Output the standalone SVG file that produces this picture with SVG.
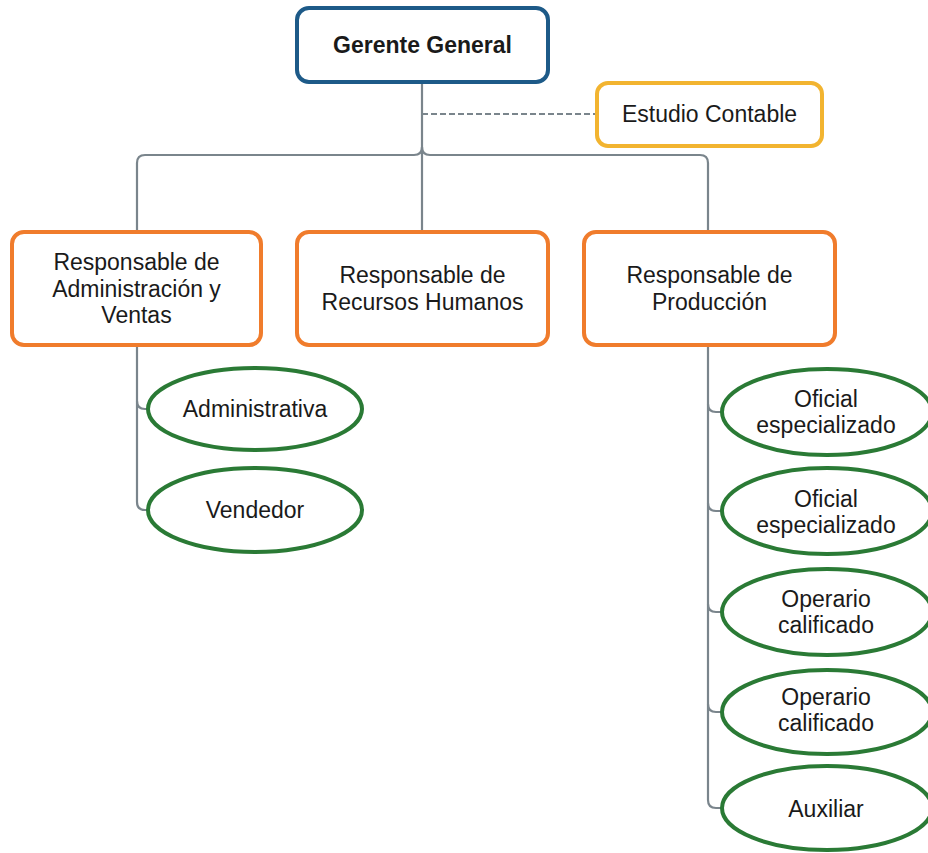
<svg xmlns="http://www.w3.org/2000/svg" width="928" height="853" viewBox="0 0 928 853">
  <style>
    text { font-family: "Liberation Sans", Arial, sans-serif; font-size: 23px; fill: #1a1a1a; text-anchor: middle; }
    .bold { font-weight: bold; }
    .box { fill: #ffffff; stroke-width: 4; }
    .top { stroke: #1d5a88; }
    .adv { stroke: #f2b430; }
    .mgr { stroke: #f07c2c; }
    .staff { fill: #ffffff; stroke: #2a7a35; stroke-width: 4; }
    .link { fill: none; stroke: #7a858c; stroke-width: 2.2; }
    .dash { fill: none; stroke: #7a858c; stroke-width: 2; stroke-dasharray: 6 3; }
  </style>
  <rect width="928" height="853" fill="#ffffff"/>

  <!-- connectors -->
  <g id="connectors">
    <path class="dash" d="M422,114 H596"/>
    <path class="link" d="M422,82 V232"/>
    <path class="link" d="M422,147 Q422,155 414,155 H145 Q137,155 137,163 V232"/>
    <path class="link" d="M422,147 Q422,155 430,155 H700 Q708,155 708,163 V232"/>
    <!-- administration branch -->
    <path class="link" d="M137,345 V502 Q137,510 145,510 H149"/>
    <path class="link" d="M137,401 Q137,409 145,409 H149"/>
    <!-- production branch -->
    <path class="link" d="M708,345 V800 Q708,808 716,808 H722"/>
    <path class="link" d="M708,404 Q708,412 716,412 H722"/>
    <path class="link" d="M708,503 Q708,511 716,511 H722"/>
    <path class="link" d="M708,604 Q708,612 716,612 H722"/>
    <path class="link" d="M708,704 Q708,712 716,712 H722"/>
  </g>

  <g id="gerente">
    <rect class="box top" x="297" y="8" width="251" height="74" rx="12"/>
    <text class="bold" x="422.5" y="53">Gerente General</text>
  </g>

  <g id="estudio">
    <rect class="box adv" x="597" y="83" width="225" height="63" rx="11"/>
    <text x="709.5" y="122">Estudio Contable</text>
  </g>

  <g id="resp-admin">
    <rect class="box mgr" x="12" y="232" width="249" height="113" rx="12"/>
    <text x="136.5" y="270">Responsable de</text>
    <text x="136.5" y="296.5">Administración y</text>
    <text x="136.5" y="323">Ventas</text>
  </g>

  <g id="resp-rrhh">
    <rect class="box mgr" x="297" y="232" width="251" height="113" rx="12"/>
    <text x="422.5" y="283">Responsable de</text>
    <text x="422.5" y="310">Recursos Humanos</text>
  </g>

  <g id="resp-prod">
    <rect class="box mgr" x="584" y="232" width="251" height="113" rx="12"/>
    <text x="709.5" y="283">Responsable de</text>
    <text x="709.5" y="310">Producción</text>
  </g>

  <g id="administrativa">
    <ellipse class="staff" cx="255" cy="409" rx="107" ry="41"/>
    <text x="255" y="417">Administrativa</text>
  </g>

  <g id="vendedor">
    <ellipse class="staff" cx="255" cy="510" rx="107" ry="42"/>
    <text x="255" y="518">Vendedor</text>
  </g>

  <g id="oficial-1">
    <ellipse class="staff" cx="827" cy="412" rx="105" ry="43"/>
    <text x="826" y="407">Oficial</text>
    <text x="826" y="433">especializado</text>
  </g>

  <g id="oficial-2">
    <ellipse class="staff" cx="827" cy="511" rx="105" ry="43"/>
    <text x="826" y="507">Oficial</text>
    <text x="826" y="533">especializado</text>
  </g>

  <g id="operario-1">
    <ellipse class="staff" cx="827" cy="612" rx="105" ry="43"/>
    <text x="826" y="607">Operario</text>
    <text x="826" y="633">calificado</text>
  </g>

  <g id="operario-2">
    <ellipse class="staff" cx="827" cy="712" rx="105" ry="42"/>
    <text x="826" y="705">Operario</text>
    <text x="826" y="731">calificado</text>
  </g>

  <g id="auxiliar">
    <ellipse class="staff" cx="827" cy="808" rx="105" ry="42"/>
    <text x="826" y="817">Auxiliar</text>
  </g>
</svg>
